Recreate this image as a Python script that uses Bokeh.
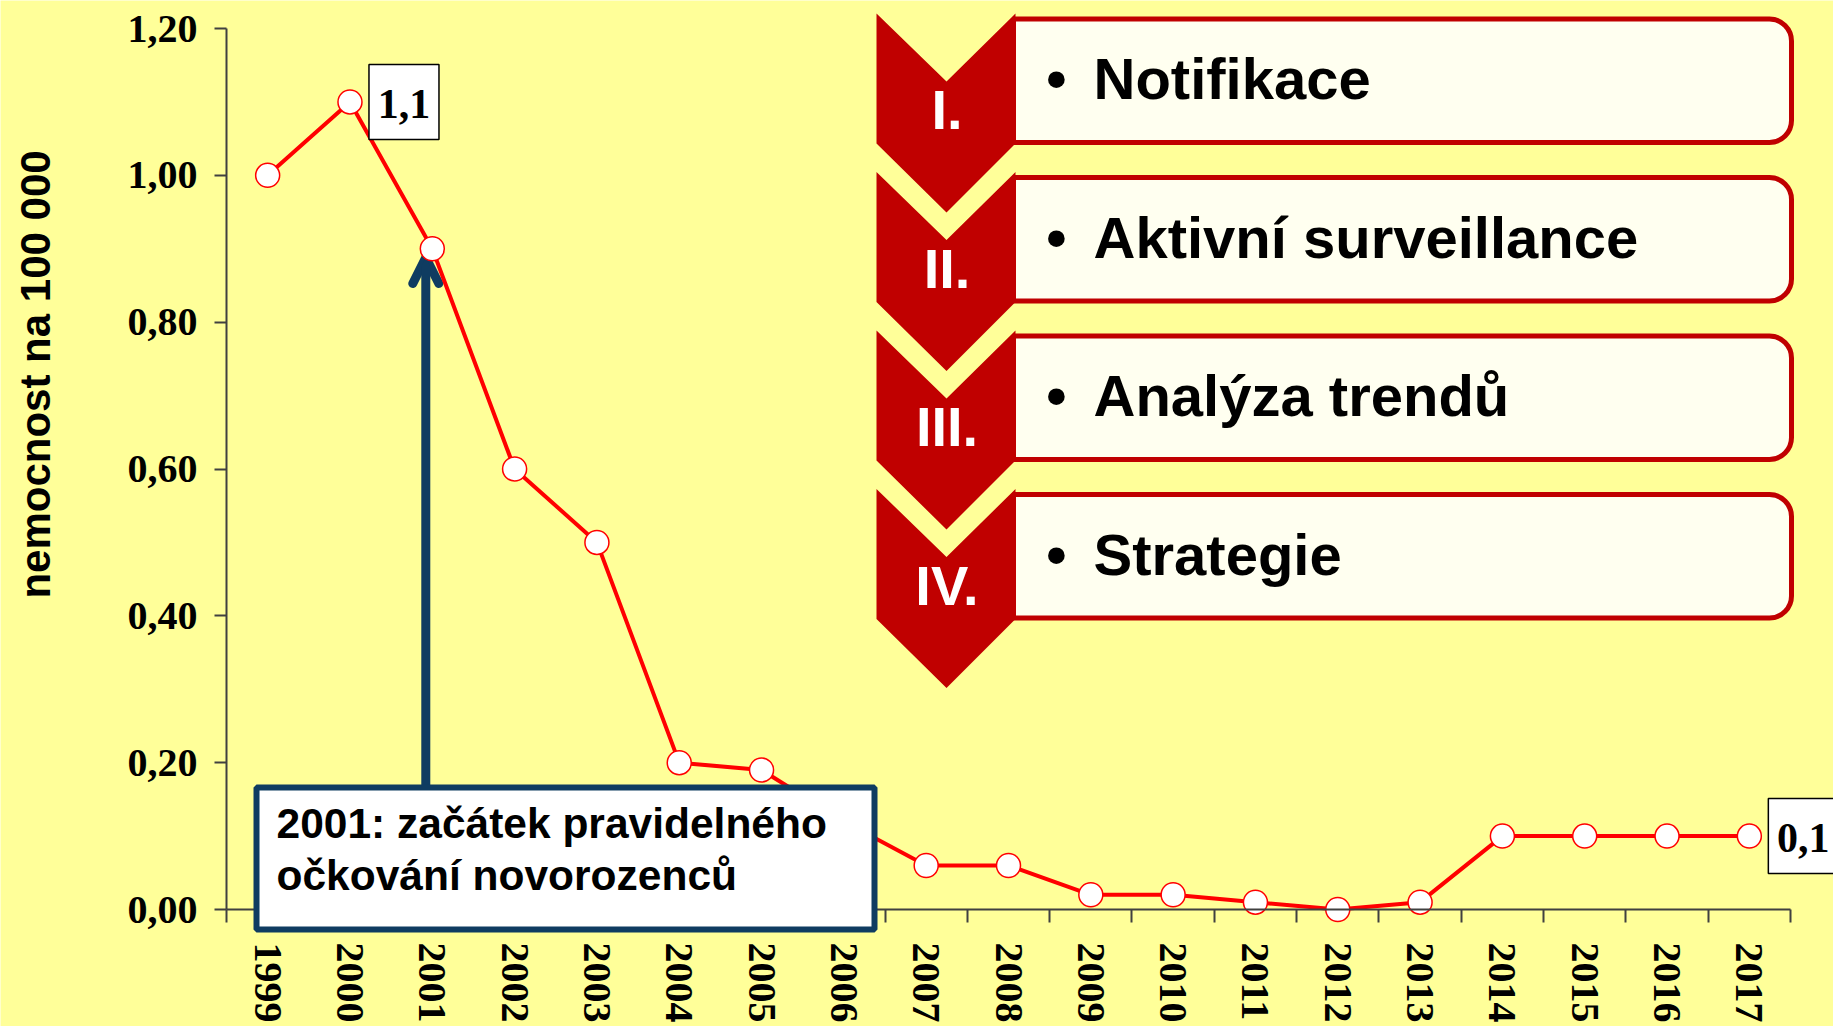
import math
from bokeh.plotting import figure
from bokeh.models import (Range1d, FixedTicker, CustomJSTickFormatter, BoxAnnotation,
                          Label, Arrow, OpenHead)
from bokeh.embed import file_html
from bokeh.resources import INLINE

# ---------------- data ----------------
years = list(range(1999, 2018))
incidence = [1.00, 1.10, 0.90, 0.60, 0.50, 0.20, 0.19, 0.12, 0.06, 0.06,
             0.02, 0.02, 0.01, 0.00, 0.01, 0.10, 0.10, 0.10, 0.10]
labelled_years = [2000, 2017]
y_ticks = [0.0, 0.2, 0.4, 0.6, 0.8, 1.0, 1.2]
y_axis_title = "nemocnost na 100 000"
note_lines = ["2001: začátek pravidelného", "očkování novorozenců"]
note_year = 2001
step_numerals = ["I.", "II.", "III.", "IV."]
step_texts = ["Notifikace", "Aktivní surveillance", "Analýza trendů", "Strategie"]

# ---------------- geometry (page px) ----------------
W, H = 1833, 1026
AXIS_X = 226             # px of the y axis
CW = (1790 - 226) / 19   # px per year category
Y0 = 909                 # px of value 0
PPU = (909 - 28) / 1.2   # px per unit value


def X(px):
    return years[0] - 0.5 + (px - AXIS_X) / CW


def Y(py):
    return (Y0 - py) / PPU


BG = "#FFFF99"
RED = "#FF0000"
DARKRED = "#C00000"
NAVY = "#0F3C61"
AXIS = "#404040"

p = figure(width=W, height=H, output_backend="svg", toolbar_location=None, title=None,
           x_range=Range1d(X(0), X(W)), y_range=Range1d(Y(H), Y(0)),
           min_border_left=0, min_border_right=0, min_border_top=0,
           min_border_bottom=0)
p.background_fill_color = BG
p.border_fill_color = BG
p.outline_line_color = None
p.grid.visible = False

# y axis, pinned at the first category boundary
ya = p.yaxis[0]
ya.fixed_location = years[0] - 0.5
ya.bounds = (y_ticks[0], y_ticks[-1])
ya.ticker = FixedTicker(ticks=y_ticks, minor_ticks=[])
ya.formatter = CustomJSTickFormatter(code="return tick.toFixed(2).replace('.', ',');")
ya.axis_line_color = AXIS
ya.axis_line_width = 2
ya.major_tick_line_color = AXIS
ya.major_tick_line_width = 2
ya.major_tick_out = 12
ya.major_tick_in = 0
ya.minor_tick_line_color = None
ya.major_label_text_font = "Liberation Serif"
ya.major_label_text_font_style = "bold"
ya.major_label_text_font_size = "40px"
ya.major_label_text_color = "black"
ya.major_label_standoff = 17

# y axis title
p.add_layout(Label(x=X(35), y=Y(374), text=y_axis_title, angle=math.pi / 2,
                   text_align="center", text_baseline="middle", text_color="black",
                   text_font="Liberation Sans", text_font_style="bold",
                   text_font_size="42px"))

# x axis at value 0, ticks at category boundaries
xa = p.xaxis[0]
xa.fixed_location = 0
xa.bounds = (years[0] - 0.5, years[-1] + 0.5)
xa.ticker = FixedTicker(ticks=years, minor_ticks=[y - 0.5 for y in years] + [years[-1] + 0.5])
xa.formatter = CustomJSTickFormatter(code="return tick.toFixed(0);")
xa.axis_line_color = AXIS
xa.axis_line_width = 2
xa.major_tick_out = 0
xa.major_tick_in = 0
xa.major_tick_line_color = None
xa.minor_tick_out = 13
xa.minor_tick_in = 0
xa.minor_tick_line_color = AXIS
xa.minor_tick_line_width = 2
xa.major_label_orientation = "vertical"
xa.major_label_text_font = "Liberation Serif"
xa.major_label_text_font_style = "bold"
xa.major_label_text_font_size = "40px"
xa.major_label_text_color = "black"
xa.major_label_standoff = 20

# ---------------- right panel: steps ----------------
ROW = 158.5
for i in range(len(step_texts)):
    d = ROW * i
    p.quad(left=[X(1013)], right=[X(1791)], top=[Y(18.5 + d)], bottom=[Y(142 + d)],
           fill_color="#FFFFF0", line_color=DARKRED, line_width=5,
           border_radius=(0, 22, 22, 0))
for i, (num, txt) in enumerate(zip(step_numerals, step_texts)):
    d = ROW * i
    xs = [X(v) for v in (876, 946, 1015, 1015, 946, 876)]
    ys = [Y(v + d) for v in (13, 81, 13, 143, 212, 143)]
    p.patch(xs, ys, fill_color=DARKRED, line_color=None)
    p.add_layout(Label(x=X(946.5), y=Y(109 + d), text=num, text_color="white",
                       text_font="Liberation Sans", text_font_style="bold",
                       text_font_size="56px", text_align="center", text_baseline="alphabetic"))
    p.add_layout(Label(x=X(1056), y=Y(78 + d), text="•", text_color="black",
                       text_font="Liberation Sans", text_font_style="bold",
                       text_font_size="58px", text_align="center", text_baseline="alphabetic"))
    p.add_layout(Label(x=X(1093), y=Y(78 + d), text=txt, text_color="black",
                       text_font="Liberation Sans", text_font_style="bold",
                       text_font_size="58px", text_align="left", text_baseline="alphabetic"))

# ---------------- series ----------------
p.line(years, incidence, line_color=RED, line_width=4)
p.scatter(years, incidence, size=24, fill_color="white", line_color=RED, line_width=1.5)

# value labels with boxes
for yr in labelled_years:
    v = incidence[years.index(yr)]
    cx = yr + (19 + 35) / CW
    p.rect(x=[cx], y=[v], width=70, height=75, width_units="screen", height_units="screen",
           fill_color="white", line_color="black", line_width=1.5)
    p.add_layout(Label(x=cx, y=v - 2 / PPU, text=f"{v:.1f}".replace(".", ","),
                       text_color="black", text_font="Liberation Serif",
                       text_font_style="bold", text_font_size="42px",
                       text_align="center", text_baseline="alphabetic"))

# ---------------- note box with arrow ----------------
note_x = note_year - 6.5 / CW
arrow = Arrow(x_start=note_x, y_start=Y(786), x_end=note_x, y_end=Y(257),
              line_color=NAVY, line_width=9, line_cap="round",
              end=OpenHead(size=26, line_color=NAVY, line_width=9, line_cap="round",
                           line_join="round"),
              level="underlay")
p.add_layout(arrow)

box = BoxAnnotation(left=X(256), right=X(874), top=Y(787), bottom=Y(929),
                    fill_color="white", fill_alpha=1.0, line_color=NAVY, line_width=6,
                    line_alpha=1.0)
p.add_layout(box)
for j, line in enumerate(note_lines):
    p.add_layout(Label(x=X(276), y=Y(823 + 51.5 * j), text=line, text_color="black",
                       text_font="Liberation Sans", text_font_style="bold",
                       text_font_size="42.5px", text_align="left", text_baseline="alphabetic"))

open("out.html", "w").write(file_html(p, INLINE))
